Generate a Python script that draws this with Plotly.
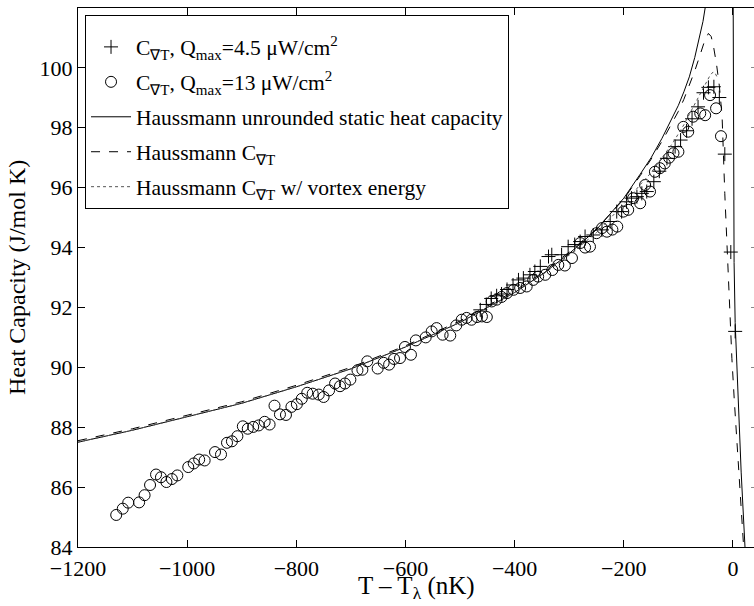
import plotly.graph_objects as go

# ---- data ----
circ_x = [-1130, -1118, -1108, -1088, -1078, -1068, -1057, -1048, -1038, -1028, -1018, -998, -988, -978, -968,
          -949, -938, -927, -918, -908, -898, -889, -879, -869, -858, -849, -840, -830, -819, -809, -799, -790,
          -780, -770, -759, -750, -740, -729, -720, -711, -701, -688, -679, -670, -651, -640, -630, -621, -610,
          -601, -590, -581, -563, -552, -543, -532, -518, -507, -497, -488, -479, -469, -460, -451, -442, -433,
          -424, -414, -402, -390, -378, -366, -357, -344, -331, -320, -308, -295, -280, -271, -262, -250, -240,
          -231, -221, -212, -201, -192, -183, -170, -161, -152, -143, -134, -125, -117, -109, -100, -91, -82,
          -73, -60, -51, -42, -31, -22]
circ_y = [85.07, 85.28, 85.48, 85.49, 85.73, 86.07, 86.42, 86.33, 86.17, 86.27, 86.39, 86.67, 86.79, 86.92, 86.89,
          87.17, 87.09, 87.48, 87.53, 87.70, 88.03, 87.95, 88.01, 88.06, 88.18, 88.09, 88.72, 88.43, 88.41, 88.68,
          88.77, 88.95, 89.15, 89.12, 89.09, 89.01, 89.23, 89.46, 89.37, 89.46, 89.59, 89.90, 89.92, 90.20, 89.96,
          90.15, 90.09, 90.28, 90.31, 90.68, 90.42, 90.90, 91.00, 91.20, 91.31, 91.09, 91.06, 91.40, 91.59, 91.65,
          91.59, 91.68, 91.70, 91.68, 92.20, 92.26, 92.35, 92.48, 92.59, 92.65, 92.70, 92.92, 93.03, 93.09, 93.25,
          93.42, 93.40, 93.65, 94.15, 94.00, 94.03, 94.48, 94.65, 94.53, 94.60, 94.70, 95.20, 95.26, 95.65, 95.48,
          96.09, 95.87, 96.53, 96.65, 96.81, 97.00, 97.15, 97.20, 98.03, 97.87, 98.37, 98.48, 98.42, 99.09, 98.65,
          97.72]

plus_x = [-463, -452, -443, -433, -424, -414, -403, -393, -384, -372, -363, -353, -338, -332, -314, -302, -290,
          -280, -271, -256, -240, -225, -213, -204, -195, -186, -176, -167, -158, -145, -135, -121, -106, -96,
          -85, -75, -64, -54, -45, -35, -25, -15, -4, 4]
plus_y = [91.92, 92.10, 92.30, 92.39, 92.45, 92.60, 92.75, 92.92, 92.98, 93.09, 93.20, 93.37, 93.70, 93.76, 93.76,
          94.03, 94.10, 94.20, 94.37, 94.42, 94.59, 94.87, 95.20, 95.20, 95.53, 95.65, 95.70, 95.81, 95.87, 96.20,
          96.55, 96.98, 97.37, 97.59, 97.90, 98.30, 98.70, 99.17, 99.35, 99.37, 99.01, 97.12, 93.85, 91.20]

solid_x = [-1200, -1100, -1000, -900, -800, -700, -600, -500, -450, -400, -350, -300, -250, -200, -170, -150,
           -130, -110, -100, -90, -80, -70, -60, -55, -51, -48, None,
           0.3, 0.5, 1, 2, 4, 7, 10, 15, 22, 25]
solid_y = [87.5, 87.9, 88.35, 88.8, 89.35, 89.95, 90.68, 91.5, 92.0, 92.5, 93.1, 93.8, 94.6, 95.65, 96.45, 97.0,
           97.65, 98.35, 98.75, 99.2, 99.7, 100.35, 101.1, 101.55, 102.0, 102.4, None,
           102.5, 97.0, 95.0, 93.5, 91.5, 90.0, 88.9, 86.5, 84.0, 83.0]

dash_x = [-1200, -1100, -1000, -900, -800, -700, -600, -500, -450, -400, -350, -300, -250, -200, -170, -150,
          -130, -110, -100, -90, -80, -70, -60, -52, -45, -40, -36, -30, -25, -20, -15, -8, -2, 2.4, 10, 19, 23]
dash_y = [87.55, 87.95, 88.4, 88.85, 89.4, 90.0, 90.72, 91.55, 92.05, 92.55, 93.15, 93.85, 94.62, 95.62, 96.4,
          96.95, 97.55, 98.2, 98.55, 98.95, 99.4, 99.9, 100.45, 100.9, 101.15, 101.05, 100.75, 100.1, 99.4, 98.4,
          95.8, 92.7, 90.3, 88.9, 86.5, 84.0, 83.0]

dot_x = [-1200, -1100, -1000, -900, -800, -700, -600, -500, -450, -400, -350, -300, -250, -200, -170, -150,
         -130, -110, -100, -90, -80, -70, -60, -50, -42, -36, -32, -28]
dot_y = [87.5, 87.9, 88.35, 88.8, 89.35, 89.95, 90.68, 91.5, 92.0, 92.5, 93.08, 93.75, 94.5, 95.45, 96.1, 96.5,
         97.0, 97.5, 97.8, 98.1, 98.45, 98.8, 99.15, 99.5, 99.75, 99.87, 99.8, 99.65]

x_ticks = [-1200, -1000, -800, -600, -400, -200, 0]
y_ticks = [84, 86, 88, 90, 92, 94, 96, 98, 100, 102]

FONT = "Liberation Serif"

fig = go.Figure()
fig.add_trace(go.Scatter(x=plus_x, y=plus_y, mode="markers", legendgroup="a",
                         marker=dict(symbol="cross-thin-open", size=10, color="black",
                                     line=dict(color="black", width=1)),
                         name="C<sub>\u2207T</sub>, Q<sub>max</sub>=4.5 \u03bcW/cm<sup>2</sup>"))
fig.add_trace(go.Scatter(x=circ_x, y=circ_y, mode="markers", legendgroup="b",
                         marker=dict(symbol="circle-open", size=11, color="black",
                                     line=dict(color="black", width=1)),
                         name="C<sub>\u2207T</sub>, Q<sub>max</sub>=13 \u03bcW/cm<sup>2</sup>"))
fig.add_trace(go.Scatter(x=solid_x, y=solid_y, mode="lines", connectgaps=False, legendgroup="c",
                         line=dict(color="black", width=1),
                         name="Haussmann unrounded static heat capacity"))
fig.add_trace(go.Scatter(x=dash_x, y=dash_y, mode="lines", legendgroup="d",
                         line=dict(color="black", width=1, dash="dash"),
                         name="Haussmann C<sub>\u2207T</sub>"))
fig.add_trace(go.Scatter(x=dot_x, y=dot_y, mode="lines", legendgroup="e",
                         line=dict(color="#555555", width=1, dash="dot"),
                         name="Haussmann C<sub>\u2207T</sub> w/ vortex energy"))
# invisible trace to carry the right-hand y axis ticks
fig.add_trace(go.Scatter(x=[None], y=[None], yaxis="y2", showlegend=False))

fig.update_layout(
    width=754, height=606,
    margin=dict(l=78, r=0, t=8, b=59, autoexpand=False),
    paper_bgcolor="white", plot_bgcolor="white",
    font=dict(family=FONT, size=21, color="black"),
    showlegend=True,
    legend=dict(x=0.0104, y=0.987, xanchor="left", yanchor="top",
                bordercolor="black", borderwidth=1, bgcolor="white",
                font=dict(family=FONT, size=21.5, color="black"),
                title=dict(text=" ", font=dict(family=FONT, size=8)),
                tracegroupgap=4, itemwidth=40),
    xaxis=dict(range=[-1200, 38.5], tickvals=x_ticks, ticks="inside", ticklen=7, tickcolor="black",
               showline=True, linecolor="black", linewidth=1, mirror="ticks",
               showgrid=False, zeroline=False, automargin=False, ticklabelstandoff=2,
               tickfont=dict(family=FONT, size=22)),
    yaxis=dict(range=[84, 102], tickvals=y_ticks, ticks="inside", ticklen=7, tickcolor="black",
               showline=True, linecolor="black", linewidth=1, mirror=False,
               showgrid=False, zeroline=False, automargin=False,
               tickfont=dict(family=FONT, size=22)),
    yaxis2=dict(range=[84, 102], tickvals=y_ticks, overlaying="y", side="right",
                ticks="inside", ticklen=3, tickcolor="#888888", showticklabels=False,
                showline=False, showgrid=False, zeroline=False, automargin=False),
    annotations=[
        dict(text="T \u2013 T<sub>\u03bb</sub> (nK)", xref="paper", yref="paper", x=0.5, y=-0.042,
             xanchor="center", yanchor="top", showarrow=False, font=dict(family=FONT, size=25)),
        dict(text="Heat Capacity (J/mol K)", xref="paper", yref="paper", x=-0.091, y=0.5,
             xanchor="center", yanchor="middle", textangle=-90, showarrow=False,
             font=dict(family=FONT, size=24)),
    ],
)

fig.write_html("out.html", config={"displayModeBar": False},
               post_script="document.body.style.margin='0';document.body.style.padding='0';"
                           "document.body.style.overflow='hidden';")
